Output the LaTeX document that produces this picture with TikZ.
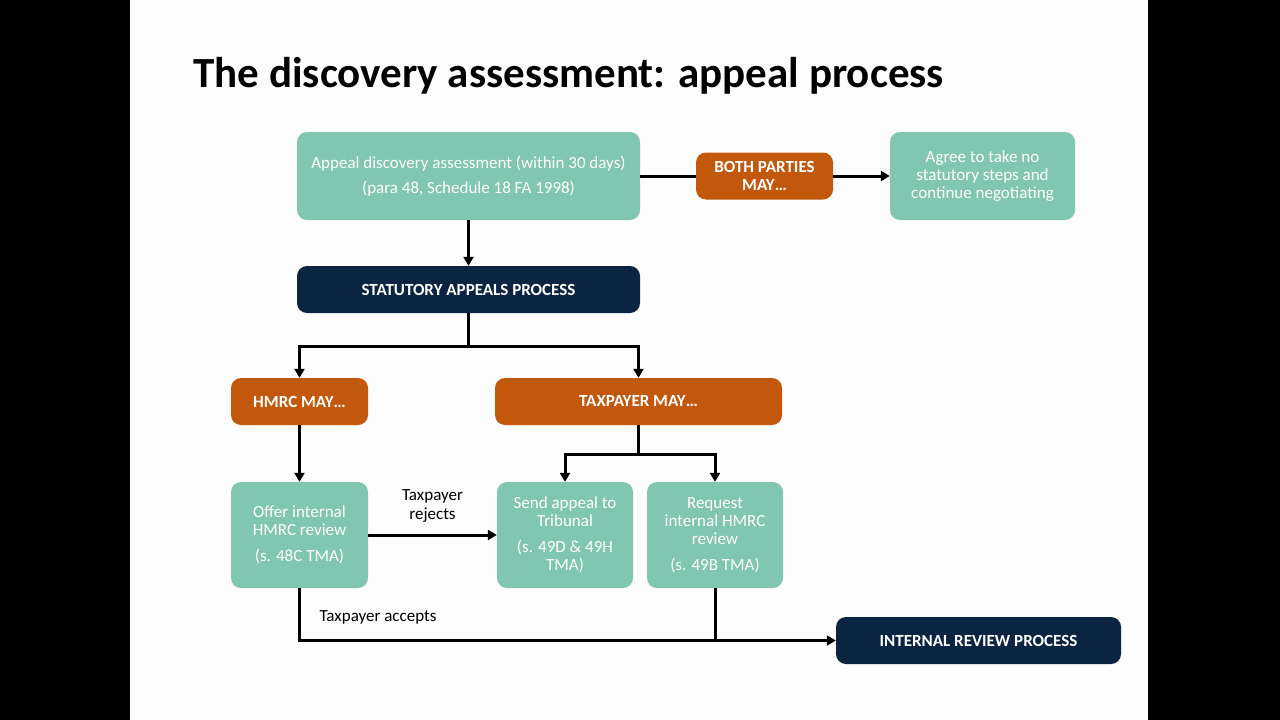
\documentclass[tikz,border=0pt]{standalone}
\usepackage{fontspec}
\setmainfont{Carlito}
\usetikzlibrary{arrows.meta}
\definecolor{tealc}{RGB}{128,198,176}
\definecolor{orangec}{RGB}{194,88,12}
\definecolor{navyc}{RGB}{10,36,66}
\definecolor{slidec}{RGB}{253,253,253}
\begin{document}
\begin{tikzpicture}[x=1pt,y=-1pt,
  box/.style={inner sep=0pt, rounded corners=10pt, align=center, text=white},
  gbox/.style={box, fill=tealc, font=\fontsize{17}{18}\selectfont},
  obox/.style={box, fill=orangec, font=\fontsize{17}{18}\selectfont\bfseries},
  nbox/.style={box, fill=navyc, font=\fontsize{17}{18}\selectfont\bfseries},
  conn/.style={line width=3pt, black},
  arr/.style={conn, -{Triangle[length=9pt,width=10pt]}},
  lbl/.style={align=center, font=\fontsize{17}{19}\selectfont, text=black}]
\fill[black] (0,0) rectangle (1280,720);
\fill[slidec] (130,0) rectangle (1148,720);
\useasboundingbox (0,0) rectangle (1280,720);

\node[anchor=base west, font=\fontsize{43}{48}\selectfont\bfseries] (title) at (190,87) {The discovery assessment: appeal process};

\node[gbox, minimum width=343pt, minimum height=88pt] (A) at (468.5,176)
  {Appeal discovery assessment (within 30 days)\\[7pt](para 48, Schedule 18 FA 1998)};
\node[obox, minimum width=137pt, minimum height=47pt] (both) at (764.5,176)
  {BOTH PARTIES\\MAY…};
\node[gbox, minimum width=185pt, minimum height=88pt] (agree) at (982.5,176)
  {Agree to take no\\statutory steps and\\continue negotiating};
\node[nbox, minimum width=343pt, minimum height=47pt] (stat) at (468.5,289.5)
  {STATUTORY APPEALS PROCESS};
\node[obox, minimum width=137pt, minimum height=47pt] (hmrc) at (299.5,401.5)
  {HMRC MAY…};
\node[obox, minimum width=287pt, minimum height=47pt] (tax) at (638.5,401.5)
  {TAXPAYER MAY…};
\node[gbox, minimum width=137pt, minimum height=106pt] (offer) at (299.5,535)
  {Offer internal\\HMRC review\\[8pt](s. 48C TMA)};
\node[gbox, minimum width=136pt, minimum height=106pt] (send) at (565,535)
  {Send appeal to\\Tribunal\\[8pt](s. 49D \& 49H\\TMA)};
\node[gbox, minimum width=136pt, minimum height=106pt] (req) at (715,535)
  {Request\\internal HMRC\\review\\[8pt](s. 49B TMA)};
\node[nbox, minimum width=285pt, minimum height=47pt] (irp) at (978.5,640.5)
  {INTERNAL REVIEW PROCESS};

\coordinate (j1) at (468.5,346);
\coordinate (j2) at (638.5,454);
\coordinate (j3) at (715,640.5);

\draw[conn] (A.east) -- (both.west);
\draw[arr] (both.east) -- (agree.west);
\draw[arr] (A.south) -- (stat.north);
\draw[conn] (stat.south) -- (j1);
\draw[arr] (j1) -| (hmrc.north);
\draw[arr] (j1) -| (tax.north);
\draw[arr] (hmrc.south) -- (offer.north);
\draw[conn] (tax.south) -- (j2);
\draw[arr] (j2) -| (send.north);
\draw[arr] (j2) -| (req.north);
\draw[arr] (offer.east) -- node[lbl, anchor=south, yshift=8pt] (rej) {Taxpayer\\rejects} (send.west);
\draw[arr] (offer.south) |- (irp.west);
\draw[conn] (req.south) -- (j3);
\node[lbl, anchor=base west] (acc) at (316,621) {Taxpayer accepts};
\end{tikzpicture}
\end{document}
